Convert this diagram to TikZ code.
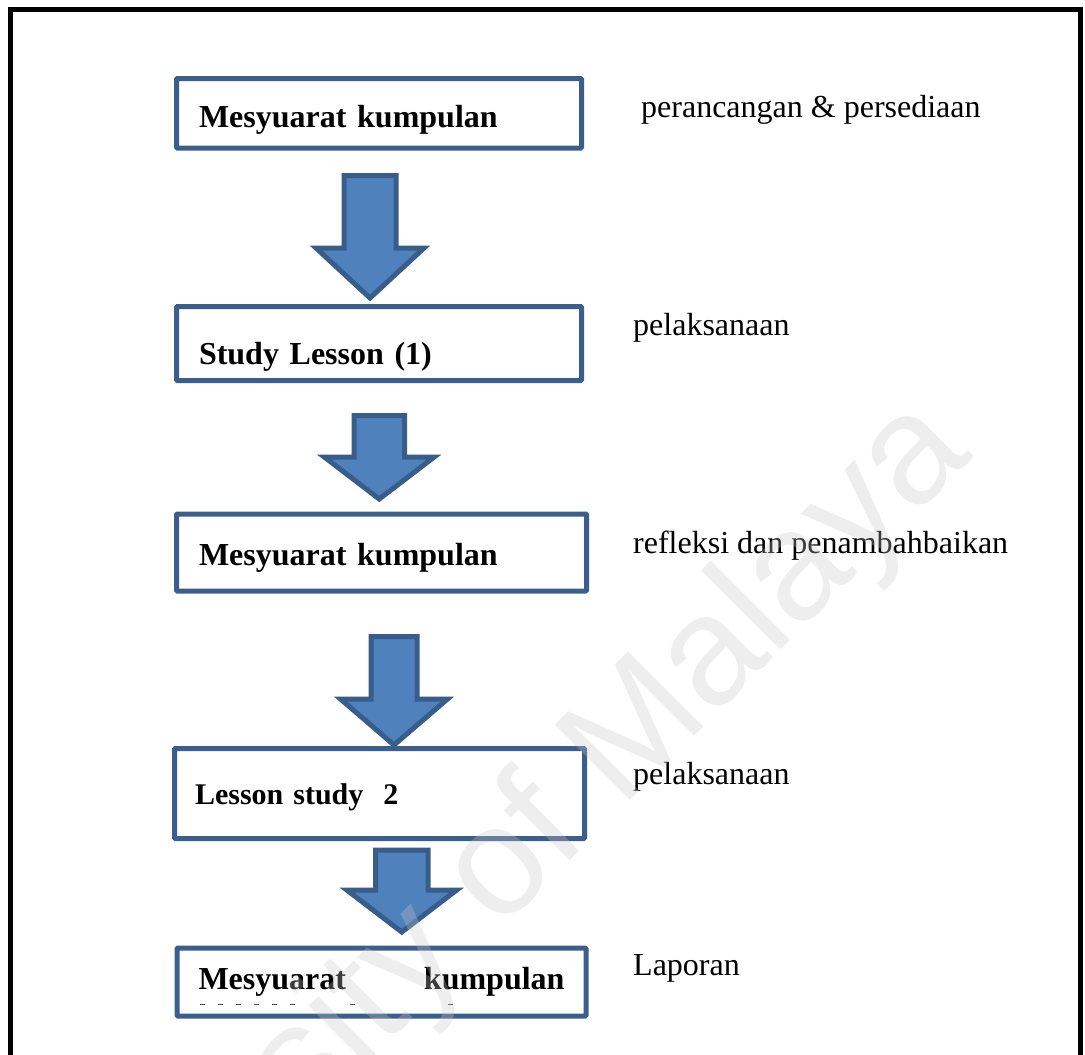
\documentclass[tikz,border=0pt]{standalone}
\usepackage{fontspec}
\setmainfont{Liberation Serif}
\newfontfamily\wmfont{Liberation Sans}
\definecolor{boxblue}{RGB}{59,94,140}
\definecolor{arrowfill}{RGB}{79,129,189}
\definecolor{arrowline}{RGB}{56,93,138}
\definecolor{markgray}{RGB}{200,200,200}

% block arrow pointing down: centre x, top y, wing y, tip y, shaft half width, head half width
\newcommand\blockarrow[6]{%
  \draw[flowarrow]
    (#1-#5,#2) -- (#1+#5,#2) -- (#1+#5,#3) -- (#1+#6,#3) -- (#1,#4)
    -- (#1-#6,#3) -- (#1-#5,#3) -- cycle;}

\begin{document}
\begin{tikzpicture}[x=1pt,y=-1pt,
  stepbox/.style={draw=boxblue, line width=5pt, fill=white, rounded corners=1pt,
    align=left, inner ysep=0pt, text depth=8pt,
    font=\fontsize{32}{38}\selectfont\bfseries},
  note/.style={anchor=base west, inner sep=0pt,
    font=\fontsize{32}{38}\selectfont},
  flowarrow/.style={fill=arrowfill, draw=arrowline, line width=5pt, line join=miter},
  frame/.style={draw=black, line width=5pt}]

\useasboundingbox (0,0) rectangle (1085,1055);
\clip (0,0) rectangle (1085,1055);

% outer frame (runs past the lower edge)
\draw[frame] (10.5,1070) -- (10.5,9.5) -- (1080.5,9.5) -- (1080.5,1070);

% process steps
\node[stepbox, text width=360pt, inner xsep=22.5pt, minimum height=69.5pt,
  text height=35.5pt] (s1) at (379,113.25) {Mesyuarat kumpulan};
\node[stepbox, text width=360pt, inner xsep=22.5pt, minimum height=74pt,
  text height=49pt] (s2) at (379,343.5) {Study Lesson (1)};
\node[stepbox, text width=365pt, inner xsep=22.5pt, minimum height=77pt,
  text height=33pt] (s3) at (381.5,552.5) {Mesyuarat kumpulan};
\node[stepbox, text width=369pt, inner xsep=20.5pt, minimum height=90pt,
  text height=29pt, font=\fontsize{30}{36}\selectfont\bfseries] (s4) at (379.5,793.5)
  {Lesson study\ \ 2};
\node[stepbox, text width=366pt, inner xsep=21.5pt, minimum height=68pt,
  text height=22pt] (s5) at (381.5,982)
  {\hbox to 366pt{Mesyuarat\hfil kumpulan}};

% dotted marks under the last step's text
\draw[black!70, line width=0.8pt, dash pattern=on 5pt off 13pt] (200,1004) -- (295,1004);
\draw[black!70, line width=0.8pt] (350,1004) -- (355,1004);
\draw[black!70, line width=0.8pt] (448,1004) -- (453,1004);

% arrows between the steps
\blockarrow{370}{175.5}{248}{298}{26}{54}
\blockarrow{379.25}{415.5}{457}{499}{25.25}{55}
\blockarrow{394}{636.5}{699}{745}{23}{53.5}
\blockarrow{401.75}{850}{890}{932}{26.25}{55}

% stage descriptions
\node[note] (n1) at (641,117) {perancangan \& persediaan};
\node[note] (n2) at (633,335) {pelaksanaan};
\node[note] (n3) at (633,553) {refleksi dan penambahbaikan};
\node[note] (n4) at (633,784) {pelaksanaan};
\node[note] (n5) at (633,975) {Laporan};

% watermark
\node[anchor=base west, inner sep=0pt, rotate=45, text=markgray, opacity=0.3,
  font=\wmfont\fontsize{155}{160}\selectfont] (wm) at (-12,1443) {University of Malaya};
\end{tikzpicture}
\end{document}
